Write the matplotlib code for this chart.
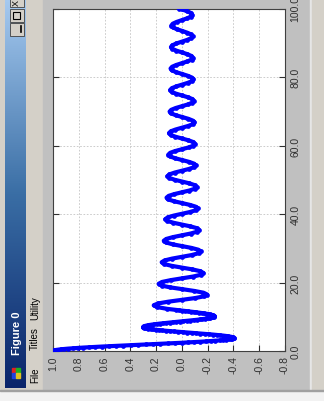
import matplotlib
matplotlib.use("Agg")
import matplotlib.pyplot as plt
import numpy as np
from matplotlib.patches import Rectangle
from matplotlib.colors import LinearSegmentedColormap

# samples of the plotted signal, dense part near the origin (step 0.1)
t_head = [0.0, 0.1, 0.2, 0.3, 0.4, 0.5, 0.6, 0.7, 0.8, 0.9,
          1.0, 1.1, 1.2, 1.3, 1.4, 1.5, 1.6, 1.7, 1.8, 1.9,
          2.0, 2.1, 2.2, 2.3, 2.4, 2.5, 2.6, 2.7, 2.8, 2.9,
          3.0, 3.1, 3.2, 3.3, 3.4, 3.5, 3.6, 3.7, 3.8, 3.9,
          4.0, 4.1, 4.2, 4.3, 4.4, 4.5, 4.6, 4.7, 4.8, 4.9,
          5.0, 5.1, 5.2, 5.3, 5.4, 5.5, 5.6, 5.7, 5.8, 5.9,
          6.0, 6.1, 6.2, 6.3, 6.4, 6.5, 6.6, 6.7, 6.8, 6.9,
          7.0, 7.1, 7.2, 7.3, 7.4, 7.5, 7.6, 7.7, 7.8, 7.9,
          8.0, 8.1, 8.2, 8.3, 8.4, 8.5, 8.6, 8.7, 8.8, 8.9,
          9.0, 9.1, 9.2, 9.3, 9.4, 9.5, 9.6, 9.7, 9.8, 9.9,
          10.0, 10.1, 10.2, 10.3, 10.4, 10.5, 10.6, 10.7, 10.8, 10.9,
          11.0, 11.1, 11.2, 11.3, 11.4, 11.5, 11.6, 11.7, 11.8, 11.9,
          12.0]
j0_head = [1.0, 0.9975, 0.9900, 0.9776, 0.9604, 0.9385, 0.9120, 0.8812, 0.8463, 0.8075,
           0.7652, 0.7196, 0.6711, 0.6201, 0.5669, 0.5118, 0.4554, 0.3980, 0.3400, 0.2818,
           0.2239, 0.1666, 0.1104, 0.0555, 0.0025, -0.0484, -0.0968, -0.1424, -0.1850, -0.2243,
           -0.2601, -0.2921, -0.3202, -0.3443, -0.3643, -0.3801, -0.3918, -0.3992, -0.4026, -0.4018,
           -0.3971, -0.3887, -0.3766, -0.3610, -0.3423, -0.3205, -0.2961, -0.2693, -0.2404, -0.2097,
           -0.1776, -0.1443, -0.1103, -0.0758, -0.0412, -0.0068, 0.0270, 0.0599, 0.0917, 0.1220,
           0.1506, 0.1773, 0.2017, 0.2238, 0.2433, 0.2601, 0.2740, 0.2851, 0.2931, 0.2981,
           0.3001, 0.2991, 0.2951, 0.2882, 0.2786, 0.2663, 0.2516, 0.2346, 0.2154, 0.1944,
           0.1717, 0.1475, 0.1222, 0.0960, 0.0692, 0.0419, 0.0146, -0.0125, -0.0392, -0.0653,
           -0.0903, -0.1142, -0.1367, -0.1577, -0.1768, -0.1939, -0.2090, -0.2218, -0.2323, -0.2403,
           -0.2459, -0.2490, -0.2496, -0.2477, -0.2434, -0.2366, -0.2276, -0.2164, -0.2032, -0.1881,
           -0.1712, -0.1528, -0.1330, -0.1121, -0.0902, -0.0677, -0.0446, -0.0213, 0.0020, 0.0250,
           0.0477]

# rest of the signal, 12 samples per oscillation
t_tail = [12.30, 12.83, 13.35, 13.88, 14.40, 14.92, 15.45, 15.97, 16.49, 17.02, 17.54, 18.06,
          18.59, 19.11, 19.63, 20.16, 20.68, 21.21, 21.73, 22.25, 22.78, 23.30, 23.82, 24.35,
          24.87, 25.39, 25.92, 26.44, 26.97, 27.49, 28.01, 28.54, 29.06, 29.58, 30.11, 30.63,
          31.15, 31.68, 32.20, 32.72, 33.25, 33.77, 34.30, 34.82, 35.34, 35.87, 36.39, 36.91,
          37.44, 37.96, 38.48, 39.01, 39.53, 40.06, 40.58, 41.10, 41.63, 42.15, 42.67, 43.20,
          43.72, 44.24, 44.77, 45.29, 45.81, 46.34, 46.86, 47.39, 47.91, 48.43, 48.96, 49.48,
          50.00, 50.53, 51.05, 51.57, 52.10, 52.62, 53.15, 53.67, 54.19, 54.72, 55.24, 55.76,
          56.29, 56.81, 57.33, 57.86, 58.38, 58.90, 59.43, 59.95, 60.48, 61.00, 61.52, 62.05,
          62.57, 63.09, 63.62, 64.14, 64.66, 65.19, 65.71, 66.24, 66.76, 67.28, 67.81, 68.33,
          68.85, 69.38, 69.90, 70.42, 70.95, 71.47, 71.99, 72.52, 73.04, 73.57, 74.09, 74.61,
          75.14, 75.66, 76.18, 76.71, 77.23, 77.75, 78.28, 78.80, 79.33, 79.85, 80.37, 80.90,
          81.42, 81.94, 82.47, 82.99, 83.51, 84.04, 84.56, 85.08, 85.61, 86.13, 86.66, 87.18,
          87.70, 88.23, 88.75, 89.27, 89.80, 90.32, 90.84, 91.37, 91.89, 92.42, 92.94, 93.46,
          93.99, 94.51, 95.03, 95.56, 96.08, 96.60, 97.13, 97.65, 98.17, 98.70, 99.22, 99.75,
          100.0]
j0_tail = [0.1137, 0.1929, 0.2184, 0.1855, 0.1051, 0.0, -0.1015, -0.1729, -0.1965, -0.1675, -0.0953, 0.0,
           0.0925, 0.1581, 0.1801, 0.1539, 0.0877, 0.0, -0.0856, -0.1465, -0.1672, -0.1431, -0.0817, 0.0,
           0.0800, 0.1371, 0.1567, 0.1344, 0.0768, 0.0, -0.0754, -0.1294, -0.1480, -0.1270, -0.0727, 0.0,
           0.0715, 0.1228, 0.1406, 0.1208, 0.0692, 0.0, -0.0681, -0.1171, -0.1342, -0.1154, -0.0661, 0.0,
           0.0652, 0.1121, 0.1286, 0.1106, 0.0635, 0.0, -0.0626, -0.1078, -0.1237, -0.1064, -0.0611, 0.0,
           0.0603, 0.1039, 0.1193, 0.1027, 0.0589, 0.0, -0.0583, -0.1004, -0.1153, -0.0993, -0.0570, 0.0,
           0.0564, 0.0972, 0.1117, 0.0962, 0.0553, 0.0, -0.0547, -0.0943, -0.1084, -0.0934, -0.0537, 0.0,
           0.0532, 0.0917, 0.1054, 0.0908, 0.0522, 0.0, -0.0518, -0.0892, -0.1026, -0.0885, -0.0509, 0.0,
           0.0504, 0.0870, 0.1000, 0.0863, 0.0496, 0.0, -0.0492, -0.0849, -0.0977, -0.0842, -0.0484, 0.0,
           0.0481, 0.0830, 0.0954, 0.0823, 0.0474, 0.0, -0.0470, -0.0811, -0.0934, -0.0806, -0.0463, 0.0,
           0.0460, 0.0794, 0.0914, 0.0789, 0.0454, 0.0, -0.0451, -0.0778, -0.0896, -0.0773, -0.0445, 0.0,
           0.0442, 0.0763, 0.0879, 0.0758, 0.0437, 0.0, -0.0434, -0.0749, -0.0862, -0.0745, -0.0429, 0.0,
           0.0426, 0.0736, 0.0847, 0.0731, 0.0421, 0.0, -0.0419, -0.0723, -0.0832, -0.0719, -0.0414, 0.0,
           0.0412, 0.0711, 0.0818, 0.0707, 0.0407, 0.0, -0.0405, -0.0699, -0.0805, -0.0696, -0.0401, 0.0,
           0.0200]

value_ticks = [1.0, 0.8, 0.6, 0.4, 0.2, 0.0, -0.2, -0.4, -0.6, -0.8]
time_ticks = [0, 20, 40, 60, 80, 100]
menu_items = ["File", "Titles", "Utility"]
window_title = "Figure 0"

t = np.array(t_head + t_tail)
v = np.array(j0_head + j0_tail)

plt.rcParams['font.family'] = ['Liberation Sans', 'DejaVu Sans']

fig = plt.figure(figsize=(3.24, 4.02), dpi=100)
fig.patch.set_facecolor('#f2f2f2')

# window frame drawn in pixel units (the whole window is turned on its side)
bg = fig.add_axes([0, 0, 1, 1])
bg.set_xlim(0, 324)
bg.set_ylim(402, 0)
bg.axis('off')

win_bottom = 391
bg.add_patch(Rectangle((0, 0), 312, win_bottom, color='#d4d0c8'))
bg.add_patch(Rectangle((43, 0), 267, win_bottom, color='#c0c0c0'))
bg.add_patch(Rectangle((310, 0), 2, win_bottom, color='#e6e6e6'))
bg.add_patch(Rectangle((312, 0), 12, win_bottom, color='#d4d0c8'))
bg.add_patch(Rectangle((0, win_bottom), 324, 1, color='#a0a0a0'))

# title bar gradient
title_cmap = LinearSegmentedColormap.from_list('title', ['#a6caf0', '#3a6ea5', '#0a246a'])
grad = np.linspace(0, 1, 256).reshape(-1, 1)
bg.imshow(grad, cmap=title_cmap, extent=(5, 26, 389, 0), aspect='auto', zorder=2)

# caption buttons
for y0 in (-5, 10, 24):
    bg.add_patch(Rectangle((9.5, y0), 14.5, 13, facecolor='#d4d0c8',
                           edgecolor='#404040', linewidth=0.6, zorder=3))
bg.text(16.5, 2.5, "X", rotation=90, ha='center', va='center', fontsize=6.5, zorder=4)
bg.add_patch(Rectangle((13, 13), 7, 7, facecolor='none', edgecolor='black',
                       linewidth=0.8, zorder=4))
bg.plot([20.5, 20.5], [27, 33], color='black', linewidth=1.2, zorder=4)

# window icon
for (dx, dy, c) in [(0, 0, '#e02020'), (4, 0, '#20b020'), (0, 5, '#2040e0'), (4, 5, '#e0c020')]:
    bg.add_patch(Rectangle((12 + dx, 369 + dy), 4, 5, color=c, zorder=4))

bg.text(17.5, 333, window_title, rotation=90, ha='center', va='center',
        color='white', fontsize=8, fontweight='bold', zorder=4)

# menu bar
menu_pos = [375, 339, 308]
for label, yc in zip(menu_items, menu_pos):
    bg.text(35, yc, label, rotation=90, ha='center', va='center',
            fontsize=7, color='black', zorder=4)

# plot area
ax = fig.add_axes([53 / 324, 1 - 352 / 402, 232 / 324, 342.5 / 402])
ax.set_facecolor('white')
ax.plot(v, t, color='#0000ff', linewidth=3.0, marker='o', markersize=3.4,
        markeredgewidth=0, zorder=3)

ax.set_xlim(1.0, -0.8)
ax.set_ylim(0, 100)
ax.set_xticks(value_ticks, labels=[f"{x:.1f}" for x in value_ticks])
ax.set_yticks(time_ticks, labels=[f"{x:.1f}" for x in time_ticks])
ax.yaxis.tick_right()
ax.tick_params(axis='x', direction='in', length=4, labelsize=7.5, pad=3,
               labelrotation=90, colors='#303030')
ax.tick_params(axis='y', direction='in', length=4, labelsize=7.5, pad=4,
               left=True, right=True, labelleft=False, labelright=True,
               labelrotation=90, colors='#303030')
for lbl in ax.get_yticklabels():
    lbl.set_va('center')

ax.grid(True, color='#c4c4c4', linestyle=(0, (2, 2)), linewidth=0.6)
for s in ax.spines.values():
    s.set_color('#404040')
    s.set_linewidth(0.8)

fig.savefig('out.png', dpi=100)
